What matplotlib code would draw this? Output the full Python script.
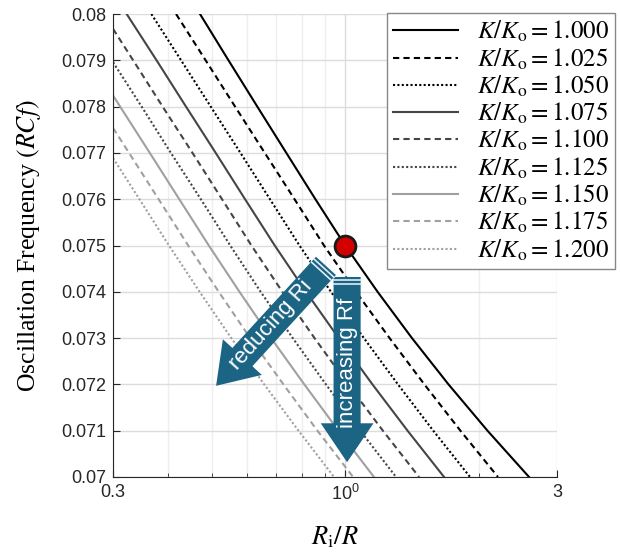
import matplotlib.pyplot as plt
from matplotlib.lines import Line2D
from matplotlib.ticker import NullFormatter
import numpy as np

plt.rcParams["mathtext.fontset"] = "stix"
plt.rcParams["font.family"] = "Liberation Sans"

# K/Ko levels
k_ratios = [1.000, 1.025, 1.050, 1.075, 1.100, 1.125, 1.150, 1.175, 1.200]

# curves: x = Ri/R, y = RCf
rcf_full = [0.080, 0.079, 0.078, 0.077, 0.076, 0.075, 0.074, 0.073, 0.072, 0.071, 0.070]
k1000_x = [0.471, 0.546, 0.634, 0.737, 0.857, 1.000, 1.183, 1.414, 1.709, 2.092, 2.595]
k1000_y = rcf_full
k1025_x = [0.416, 0.485, 0.565, 0.659, 0.769, 0.896, 1.058, 1.259, 1.508, 1.818, 2.209]
k1025_y = rcf_full
k1050_x = [0.366, 0.427, 0.498, 0.581, 0.677, 0.789, 0.929, 1.102, 1.315, 1.579, 1.911]
k1050_y = rcf_full
k1075_x = [0.322, 0.376, 0.438, 0.511, 0.595, 0.694, 0.816, 0.967, 1.152, 1.382, 1.670]
k1075_y = rcf_full
k1100_x = [0.300, 0.333, 0.388, 0.453, 0.528, 0.615, 0.722, 0.853, 1.015, 1.216, 1.467]
k1100_y = [0.07968, 0.079, 0.078, 0.077, 0.076, 0.075, 0.074, 0.073, 0.072, 0.071, 0.070]
k1125_x = [0.300, 0.348, 0.405, 0.473, 0.551, 0.645, 0.762, 0.905, 1.081, 1.302]
k1125_y = [0.07896, 0.078, 0.077, 0.076, 0.075, 0.074, 0.073, 0.072, 0.071, 0.070]
k1150_x = [0.300, 0.363, 0.423, 0.493, 0.578, 0.681, 0.809, 0.966, 1.161]
k1150_y = [0.07824, 0.077, 0.076, 0.075, 0.074, 0.073, 0.072, 0.071, 0.070]
k1175_x = [0.300, 0.326, 0.380, 0.443, 0.519, 0.611, 0.726, 0.866, 1.042]
k1175_y = [0.07754, 0.077, 0.076, 0.075, 0.074, 0.073, 0.072, 0.071, 0.070]
k1200_x = [0.300, 0.344, 0.401, 0.470, 0.554, 0.657, 0.785, 0.944]
k1200_y = [0.07689, 0.076, 0.075, 0.074, 0.073, 0.072, 0.071, 0.070]

# operating point
op_x = 1.0
op_y = 0.075

y_ticks = [0.070, 0.071, 0.072, 0.073, 0.074, 0.075, 0.076, 0.077, 0.078, 0.079, 0.080]
y_ticklabels = ["0.07", "0.071", "0.072", "0.073", "0.074", "0.075",
                "0.076", "0.077", "0.078", "0.079", "0.08"]
x_ticks = [0.3, 1, 3]
x_ticklabels = ["0.3", r"$\mathregular{10^0}$", "3"]

curves = [(k1000_x, k1000_y), (k1025_x, k1025_y), (k1050_x, k1050_y),
          (k1075_x, k1075_y), (k1100_x, k1100_y), (k1125_x, k1125_y),
          (k1150_x, k1150_y), (k1175_x, k1175_y), (k1200_x, k1200_y)]
colors = ["black"] * 3 + ["#454545"] * 3 + ["#a0a0a0"] * 3
# solid / dashed / dotted (MATLAB-like spacing)
dash_patterns = [None, (3, 2), (1, 1.1)] * 3
arrow_color = "#1b6484"

fig = plt.figure(figsize=(6.2, 5.54), dpi=100)
ax = fig.add_axes([0.1823, 0.139, 0.7161, 0.8357])

for (cx, cy), k, c, dp in zip(curves, k_ratios, colors, dash_patterns):
    line, = ax.plot(cx, cy, color=c, lw=1.5, label=rf"$K/K_\mathrm{{o}} = {k:.3f}$")
    if dp is not None:
        line.set_dashes(dp)

ax.set_xscale("log")
ax.set_xlim(0.3, 3)
ax.set_ylim(0.07, 0.08)
ax.set_xticks(x_ticks)
ax.set_xticklabels(x_ticklabels)
ax.xaxis.set_minor_formatter(NullFormatter())
ax.set_yticks(y_ticks)
ax.set_yticklabels(y_ticklabels)

ax.grid(True, which="major", color="#dcdcdc", lw=1)
ax.grid(True, which="minor", axis="x", color="#eeeeee", lw=1)
ax.set_axisbelow(True)
for s in ["top", "right"]:
    ax.spines[s].set_visible(False)
for s in ["left", "bottom"]:
    ax.spines[s].set_color("#262626")
ax.tick_params(which="both", direction="in", labelsize=13, pad=5, colors="#262626")
ax.tick_params(which="major", length=5)
ax.tick_params(which="minor", length=3)

ax.set_ylabel(r"Oscillation Frequency $(RCf)$", family="Liberation Serif",
              fontsize=18.5, labelpad=13)
ax.set_xlabel(r"$R_\mathrm{i}/R$", fontsize=19, labelpad=15)

leg = ax.legend(loc="upper right", bbox_to_anchor=(0.992, 0.977),
                bbox_transform=fig.transFigure, prop={"size": 18},
                handlelength=2.6, handletextpad=0.75, labelspacing=0.08,
                borderpad=0.25, borderaxespad=0,
                fancybox=False, framealpha=1, edgecolor="#888888")
leg.get_frame().set_linewidth(1.0)

# big annotation arrows
arrow_kw = dict(arrowstyle="simple,head_length=2.8,head_width=3.8,tail_width=1.95",
                mutation_scale=10, color=arrow_color, shrinkA=0, shrinkB=0, lw=0)
ri_tail, ri_tip = (0.905, 0.07456), (0.512, 0.07197)
rf_tail, rf_tip = (1.01, 0.07432), (1.01, 0.07032)
ax.annotate("", xy=ri_tip, xytext=ri_tail, arrowprops=arrow_kw)
ax.annotate("", xy=rf_tip, xytext=rf_tail, arrowprops=arrow_kw)

# white stripes near the arrow tails
for tail, tip in [(ri_tail, ri_tip), (rf_tail, rf_tip)]:
    p0 = ax.transData.transform(tail)
    p1 = ax.transData.transform(tip)
    d = (p1 - p0) / np.hypot(*(p1 - p0))
    n = np.array([-d[1], d[0]])
    for off in [3, 7]:
        c = p0 + d * off
        a, b = c - n * 13.5, c + n * 13.5
        fig.add_artist(Line2D([a[0], b[0]], [a[1], b[1]], transform=None,
                              color="#dfeef5", lw=1.2, zorder=5))

ax.text(0.681, 0.07328, "reducing Ri", rotation=48, rotation_mode="anchor",
        ha="center", va="center", color="white", fontsize=16)
ax.text(1.01, 0.07246, "increasing Rf", rotation=90, rotation_mode="anchor",
        ha="center", va="center", color="white", fontsize=16)

ax.plot([op_x], [op_y], "o", ms=15, mfc="#d40000", mec="#1a1a1a", mew=2, zorder=6)

fig.savefig("out.png", dpi=100)
